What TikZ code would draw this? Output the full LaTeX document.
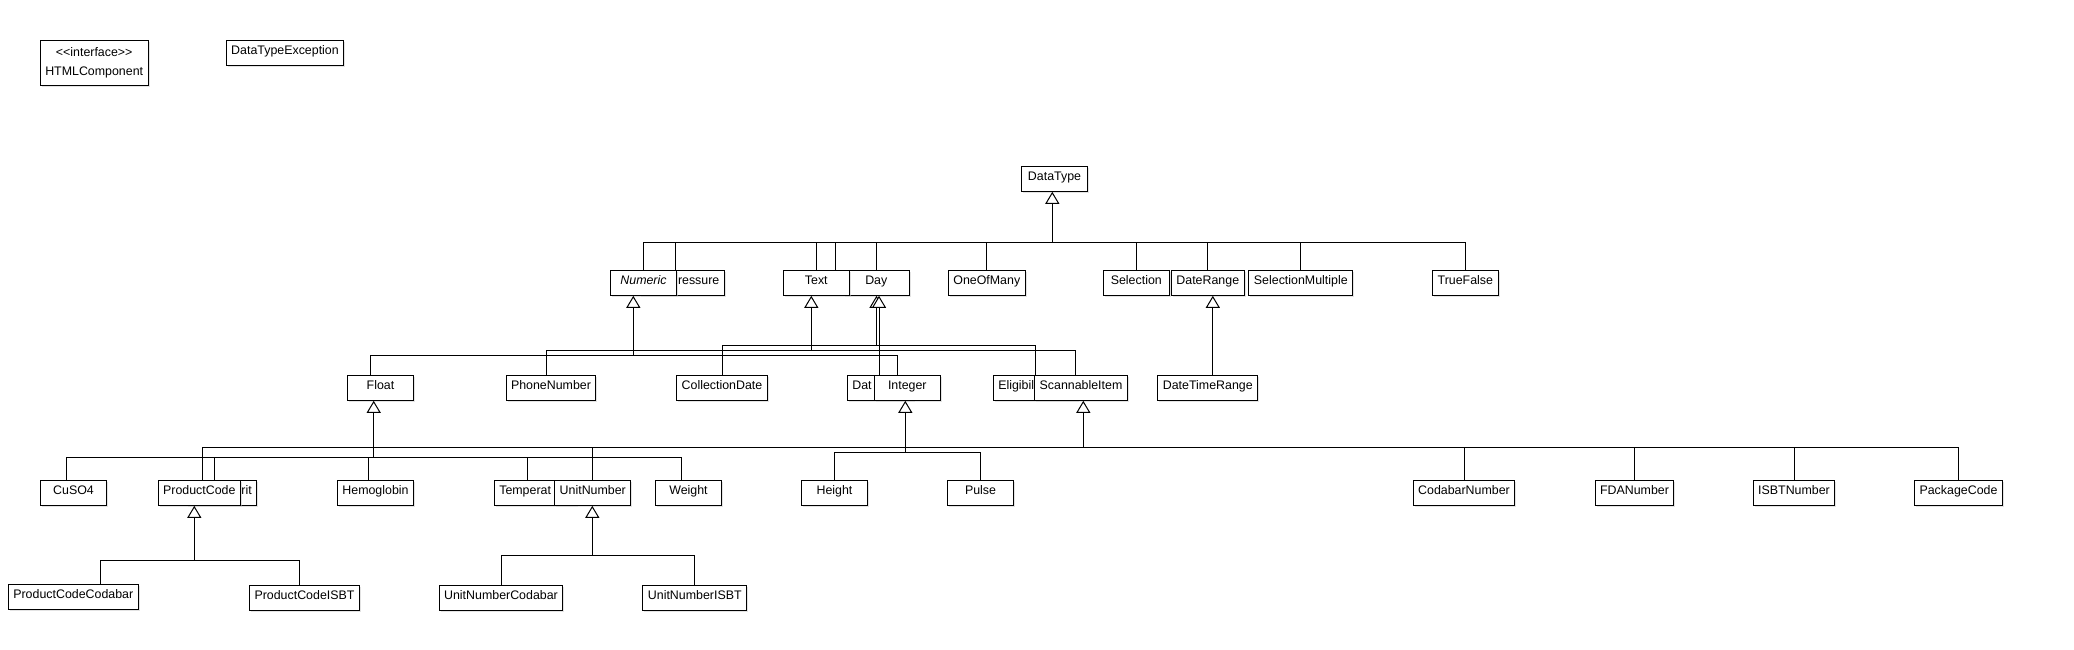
\documentclass[tikz,border=0pt]{standalone}
\usepackage{fontspec}
\setmainfont{Liberation Sans}
\usepackage{tikz}
\usetikzlibrary{arrows.meta}
\usetikzlibrary{shadows}
\tikzstyle{Box}=[draw,fill=white,line width=1pt,minimum width=66pt,minimum height=25pt,
inner xsep=5pt,text height=9pt,text depth=6pt,font=\fontsize{12.4}{19}\selectfont,
drop shadow={shadow xshift=1.5pt,shadow yshift=-1.5pt,fill=black!22}]
\tikzstyle{CovL}=[Box,text width=#1,align=left]
\tikzstyle{CovR}=[Box,text width=#1,align=right]
\tikzstyle{Link}=[line width=1pt]
\tikzstyle{Inherit}=[line width=1pt,-{Triangle[width=14pt,length=12pt,fill=white]}]

\begin{document}
\begin{tikzpicture}[x=1pt,y=-1pt]
        \useasboundingbox(0,0)rectangle(2074,650);
        % loose classes
        \node[Box,minimum width=107pt,minimum height=44.6pt,text height=,text depth=,align=center](HTMLComponent)at(94.2,63){<{}<interface>{}>\\HTMLComponent};
        \node[Box](DataTypeException)at(285,52.8){DataTypeException};
        % root
        \node[Box](DataType)at(1054.5,178.8){DataType};
        % level 1
        \node[CovR=75.3pt](Pressure)at(681.7,282.8){ressure};
        \node[Box](Numeric)at(643.5,282.8){\itshape Numeric};
        \node[Box](Day)at(876.3,282.8){Day};
        \node[Box](Text)at(816.3,282.8){Text};
        \node[Box](OneOfMany)at(986.8,282.8){OneOfMany};
        \node[Box](Selection)at(1136.3,282.8){Selection};
        \node[Box](DateRange)at(1207.8,282.8){DateRange};
        \node[Box](SelectionMultiple)at(1300.8,282.8){SelectionMultiple};
        \node[Box](TrueFalse)at(1465.3,282.8){TrueFalse};
        % level 2
        \node[Box](Float)at(380.5,387.8){Float};
        \node[Box](PhoneNumber)at(551,387.8){PhoneNumber};
        \node[Box](CollectionDate)at(722,387.8){CollectionDate};
        \node[CovL=56pt](Date)at(880.3,387.8){Dat};
        \node[Box](Integer)at(907.3,387.8){Integer};
        \node[CovL=74pt](Eligibility)at(1035.3,387.8){Eligibil};
        \node[Box](ScannableItem)at(1081,387.8){ScannableItem};
        \node[Box](DateTimeRange)at(1207.8,387.8){DateTimeRange};
        % level 3
        \node[Box](CuSO4)at(73.5,492.8){CuSO4};
        \node[CovR=60pt](Hematocrit)at(221.7,492.8){rit};
        \node[Box](ProductCode)at(199.3,492.8){ProductCode};
        \node[Box](Hemoglobin)at(375.5,492.8){Hemoglobin};
        \node[CovL=72pt](Temperature)at(535.3,492.8){Temperat};
        \node[Box](UnitNumber)at(592.8,492.8){UnitNumber};
        \node[Box](Weight)at(688.5,492.8){Weight};
        \node[Box](Height)at(834.5,492.8){Height};
        \node[Box](Pulse)at(980.5,492.8){Pulse};
        \node[Box](CodabarNumber)at(1464,492.8){CodabarNumber};
        \node[Box](FDANumber)at(1634.5,492.8){FDANumber};
        \node[Box](ISBTNumber)at(1794,492.8){ISBTNumber};
        \node[Box](PackageCode)at(1958.5,492.8){PackageCode};
        % level 4
        \node[Box](ProductCodeCodabar)at(73.3,596.8){ProductCodeCodabar};
        \node[Box](ProductCodeISBT)at(304.5,597.8){ProductCodeISBT};
        \node[Box](UnitNumberCodabar)at(501,597.8){UnitNumberCodabar};
        \node[Box](UnitNumberISBT)at(694.8,597.8){UnitNumberISBT};
        % bus points
        \coordinate(DataTypeBus)at(1052.3,242.3);
        \coordinate(NumericBus)at(633.3,355.3);
        \coordinate(TextBus)at(811.3,350.3);
        \coordinate(DayBus)at(876.5,345.3);
        \coordinate(FloatBus)at(373.7,457.3);
        \coordinate(ScanBus)at(1083.3,447.3);
        \coordinate(IntegerBus)at(905.3,452.3);
        \coordinate(ProductBus)at(194.3,560.3);
        \coordinate(UnitBus)at(592.3,555.3);
        % DataType
        \draw[Link](Numeric.north)|-(DataTypeBus);
        \draw[Link]([xshift=-6pt]Pressure.north)|-(DataTypeBus);
        \draw[Link](Text.north)|-(DataTypeBus);
        \draw[Link]([xshift=19pt]Text.north)|-(DataTypeBus);
        \draw[Link](Day.north)|-(DataTypeBus);
        \draw[Link](OneOfMany.north)|-(DataTypeBus);
        \draw[Link](Selection.north)|-(DataTypeBus);
        \draw[Link](DateRange.north)|-(DataTypeBus);
        \draw[Link](SelectionMultiple.north)|-(DataTypeBus);
        \draw[Link](TrueFalse.north)|-(DataTypeBus);
        \draw[Inherit](DataTypeBus)--(DataTypeBus|-DataType.south);
        % Numeric
        \draw[Link]([xshift=-10pt]Float.north)|-(NumericBus);
        \draw[Link]([xshift=-10pt]Integer.north)|-(NumericBus);
        \draw[Inherit](NumericBus)--(NumericBus|-Numeric.south);
        % Text
        \draw[Link]([xshift=-5pt]PhoneNumber.north)|-(TextBus);
        \draw[Link]([xshift=-6pt]ScannableItem.north)|-(TextBus);
        \draw[Inherit](TextBus)--(TextBus|-Text.south);
        % Day
        \draw[Link](CollectionDate.north)|-(DayBus);
        \draw[Link](Eligibility.north)|-(DayBus);
        \draw[Inherit](DayBus)--(DayBus|-Day.south);
        \draw[Inherit]([xshift=-1.3pt]Date.north)--([xshift=2.7pt]Day.south);
        % DateRange
        \draw[Inherit]([xshift=5pt]DateTimeRange.north)--([xshift=5pt]DateRange.south);
        % Float
        \draw[Link]([xshift=-7pt]CuSO4.north)|-(FloatBus);
        \draw[Link]([xshift=-7.4pt]Hematocrit.north)|-(FloatBus);
        \draw[Link]([xshift=-7pt]Hemoglobin.north)|-(FloatBus);
        \draw[Link]([xshift=-8pt]Temperature.north)|-(FloatBus);
        \draw[Link]([xshift=-7pt]Weight.north)|-(FloatBus);
        \draw[Inherit](FloatBus)--(FloatBus|-Float.south);
        % ScannableItem
        \draw[Link]([xshift=3pt]ProductCode.north)|-(ScanBus);
        \draw[Link](UnitNumber.north)|-(ScanBus);
        \draw[Link](CodabarNumber.north)|-(ScanBus);
        \draw[Link](FDANumber.north)|-(ScanBus);
        \draw[Link](ISBTNumber.north)|-(ScanBus);
        \draw[Link](PackageCode.north)|-(ScanBus);
        \draw[Inherit](ScanBus)--(ScanBus|-ScannableItem.south);
        % Integer
        \draw[Link](Height.north)|-(IntegerBus);
        \draw[Link](Pulse.north)|-(IntegerBus);
        \draw[Inherit](IntegerBus)--(IntegerBus|-Integer.south);
        % ProductCode
        \draw[Link]([xshift=27pt]ProductCodeCodabar.north)|-(ProductBus);
        \draw[Link]([xshift=-5.2pt]ProductCodeISBT.north)|-(ProductBus);
        \draw[Inherit](ProductBus)--(ProductBus|-ProductCode.south);
        % UnitNumber
        \draw[Link](UnitNumberCodabar.north)|-(UnitBus);
        \draw[Link](UnitNumberISBT.north)|-(UnitBus);
        \draw[Inherit](UnitBus)--(UnitBus|-UnitNumber.south);
    \end{tikzpicture}
\end{document}
